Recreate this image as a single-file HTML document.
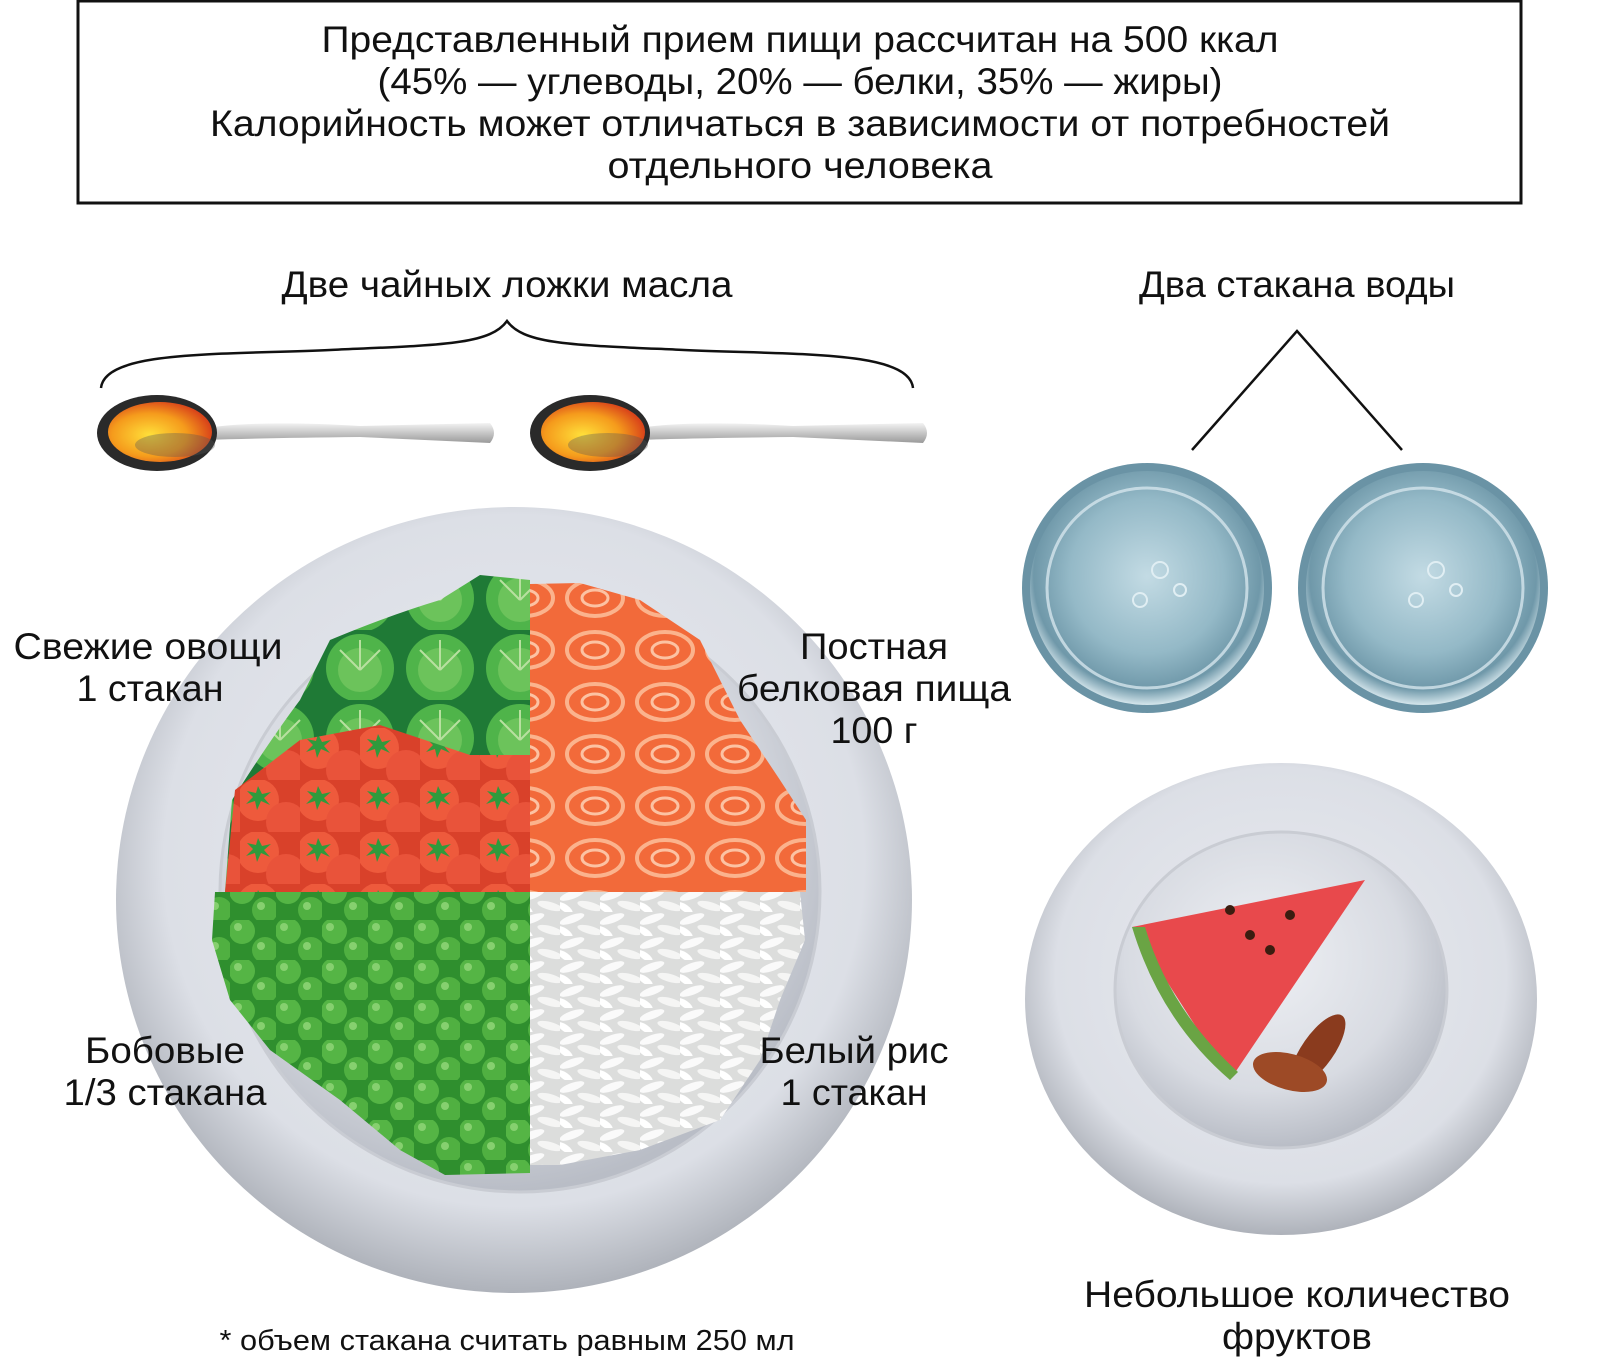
<!DOCTYPE html>
<html><head><meta charset="utf-8"><style>
html,body{margin:0;padding:0;background:#fff;}
svg{display:block;}
text{font-family:"Liberation Sans Narrow","Liberation Sans",sans-serif;fill:#111;}
</style></head><body>
<svg width="1615" height="1371" viewBox="0 0 1615 1371" xmlns="http://www.w3.org/2000/svg">
<defs>
<radialGradient id="plate" cx="50%" cy="45%" r="55%">
<stop offset="0" stop-color="#e9ebf0"/><stop offset="0.8" stop-color="#dcdfe6"/><stop offset="1" stop-color="#aeb2ba"/></radialGradient>
<radialGradient id="well" cx="45%" cy="40%" r="60%">
<stop offset="0" stop-color="#eef0f4"/><stop offset="0.7" stop-color="#d8dbe2"/><stop offset="1" stop-color="#b9bdc6"/></radialGradient>
<radialGradient id="water" cx="50%" cy="45%" r="55%">
<stop offset="0" stop-color="#c3dbe4"/><stop offset="0.6" stop-color="#94b9c7"/><stop offset="0.88" stop-color="#6f98a9"/><stop offset="1" stop-color="#d5e6ec"/></radialGradient>
<radialGradient id="oil" cx="40%" cy="55%" r="60%">
<stop offset="0" stop-color="#ffe03a"/><stop offset="0.6" stop-color="#f59b1c"/><stop offset="1" stop-color="#d9441a"/></radialGradient>
<linearGradient id="handle" x1="0" y1="0" x2="0" y2="1"><stop offset="0" stop-color="#f3f3f3"/><stop offset="1" stop-color="#9a9a9a"/></linearGradient>
<pattern id="peas" width="46" height="40" patternUnits="userSpaceOnUse">
<rect width="46" height="40" fill="#2f8f2e"/>
<circle cx="12" cy="11" r="13" fill="#55b545"/><circle cx="35" cy="30" r="13" fill="#50b041"/>
<circle cx="8" cy="7" r="4" fill="#86d06f"/><circle cx="31" cy="26" r="4" fill="#86d06f"/></pattern>
<pattern id="rice" width="40" height="24" patternUnits="userSpaceOnUse">
<rect width="40" height="24" fill="#dcdddc"/>
<ellipse cx="12" cy="7" rx="13" ry="4" fill="#fafafa" transform="rotate(-20 12 7)"/>
<ellipse cx="30" cy="18" rx="13" ry="4" fill="#f5f5f4" transform="rotate(15 30 18)"/>
<ellipse cx="5" cy="20" rx="9" ry="3.5" fill="#ffffff" transform="rotate(35 5 20)"/></pattern>
<pattern id="salmon" width="70" height="52" patternUnits="userSpaceOnUse">
<rect width="70" height="52" fill="#f26a3a"/>
<ellipse cx="35" cy="26" rx="28" ry="18" fill="none" stroke="#fbb38d" stroke-width="4"/>
<ellipse cx="35" cy="26" rx="13" ry="8" fill="none" stroke="#fcc2a3" stroke-width="3"/></pattern>
<pattern id="tom" width="60" height="52" patternUnits="userSpaceOnUse">
<rect width="60" height="52" fill="#d9412a"/>
<circle cx="18" cy="20" r="21" fill="#ee5a3c"/><circle cx="46" cy="42" r="20" fill="#e9533a"/>
<path d="M18 6 l4 8 9-2-7 6 6 7-9-4-4 9-2-9-9 3 7-7-6-6 9 2z" fill="#2f9a3c"/></pattern>
<pattern id="leaf" width="80" height="70" patternUnits="userSpaceOnUse">
<rect width="80" height="70" fill="#1f7a36"/>
<circle cx="40" cy="38" r="34" fill="#4fb44a"/><circle cx="40" cy="40" r="22" fill="#6cc35b"/>
<path d="M40 40 L20 20 M40 40 L60 20 M40 40 L40 10" stroke="#b8e0a0" stroke-width="2"/></pattern>
</defs>

<rect x="78" y="1" width="1443" height="202" fill="#fff" stroke="#111" stroke-width="3"/>
<text x="800" y="52" font-size="37" text-anchor="middle" textLength="957" lengthAdjust="spacingAndGlyphs">Представленный прием пищи рассчитан на 500 ккал</text>
<text x="800" y="94" font-size="37" text-anchor="middle" textLength="845" lengthAdjust="spacingAndGlyphs">(45% — углеводы, 20% — белки, 35% — жиры)</text>
<text x="800" y="136" font-size="37" text-anchor="middle" textLength="1180" lengthAdjust="spacingAndGlyphs">Калорийность может отличаться в зависимости от потребностей</text>
<text x="800" y="178" font-size="37" text-anchor="middle" textLength="385" lengthAdjust="spacingAndGlyphs">отдельного человека</text>

<text x="507" y="297" font-size="37" text-anchor="middle" textLength="451" lengthAdjust="spacingAndGlyphs">Две чайных ложки масла</text>
<text x="1297" y="297" font-size="37" text-anchor="middle" textLength="316" lengthAdjust="spacingAndGlyphs">Два стакана воды</text>

<path d="M101 388 C105 350 220 355 330 350 C440 345 490 345 507 321 C524 345 574 345 684 350 C794 355 909 350 913 388" fill="none" stroke="#111" stroke-width="2.5"/>
<path d="M1192 450 L1297 331 L1402 450" fill="none" stroke="#111" stroke-width="2.5"/>

<g>
<path d="M205 428 Q260 420 360 426 L490 423 Q498 433 490 443 L360 437 Q260 438 205 440 Z" fill="url(#handle)"/>
<ellipse cx="157" cy="433" rx="60" ry="38" fill="#2a2a2a"/>
<ellipse cx="160" cy="432" rx="52" ry="30" fill="url(#oil)"/>
<ellipse cx="175" cy="445" rx="40" ry="12" fill="#555" opacity="0.35"/>
</g>
<g transform="translate(433,0)">
<path d="M205 428 Q260 420 360 426 L490 423 Q498 433 490 443 L360 437 Q260 438 205 440 Z" fill="url(#handle)"/>
<ellipse cx="157" cy="433" rx="60" ry="38" fill="#2a2a2a"/>
<ellipse cx="160" cy="432" rx="52" ry="30" fill="url(#oil)"/>
<ellipse cx="175" cy="445" rx="40" ry="12" fill="#555" opacity="0.35"/>
</g>

<g>
<circle cx="1147" cy="588" r="125" fill="#6a93a5"/>
<circle cx="1147" cy="588" r="117" fill="url(#water)"/>
<circle cx="1147" cy="588" r="100" fill="none" stroke="#d4e5ec" stroke-width="3" opacity="0.8"/>
<circle cx="1160" cy="570" r="8" fill="none" stroke="#e0eef3" stroke-width="2"/><circle cx="1180" cy="590" r="6" fill="none" stroke="#e0eef3" stroke-width="2"/><circle cx="1140" cy="600" r="7" fill="none" stroke="#e0eef3" stroke-width="2"/>
</g>
<g transform="translate(276,0)">
<circle cx="1147" cy="588" r="125" fill="#6a93a5"/>
<circle cx="1147" cy="588" r="117" fill="url(#water)"/>
<circle cx="1147" cy="588" r="100" fill="none" stroke="#d4e5ec" stroke-width="3" opacity="0.8"/>
<circle cx="1160" cy="570" r="8" fill="none" stroke="#e0eef3" stroke-width="2"/><circle cx="1180" cy="590" r="6" fill="none" stroke="#e0eef3" stroke-width="2"/><circle cx="1140" cy="600" r="7" fill="none" stroke="#e0eef3" stroke-width="2"/>
</g>

<ellipse cx="514" cy="900" rx="398" ry="393" fill="url(#plate)"/>
<ellipse cx="520" cy="892" rx="300" ry="300" fill="url(#well)" stroke="#c9ccd3" stroke-width="3"/>
<path d="M530 892 L225 892 L232 800 Q270 740 300 700 L330 640 Q390 615 440 600 L480 575 L530 580 Z" fill="url(#leaf)"/>
<path d="M530 892 L225 892 L235 790 L300 740 L380 725 L470 755 L530 755 Z" fill="url(#tom)"/>
<path d="M530 892 L530 584 L580 583 L640 600 L700 640 L740 720 L780 780 L806 820 L806 892 Z" fill="url(#salmon)"/>
<path d="M530 892 L530 1173 L445 1175 L400 1150 L340 1100 L270 1050 L230 1000 L212 940 L215 892 Z" fill="url(#peas)"/>
<path d="M530 892 L800 892 L805 940 L780 1000 L760 1060 L720 1120 L640 1150 L560 1165 L530 1165 Z" fill="url(#rice)"/>

<ellipse cx="1281" cy="999" rx="256" ry="236" fill="url(#plate)"/>
<ellipse cx="1281" cy="990" rx="166" ry="158" fill="url(#well)" stroke="#c9ccd3" stroke-width="3"/>
<path d="M1132 927 L1365 880 L1230 1080 Z" fill="#e8494c"/>
<path d="M1132 927 Q1160 1020 1230 1080 L1238 1072 Q1170 1010 1145 927 Z" fill="#6aa444"/>
<circle cx="1230" cy="910" r="5" fill="#3a1d10"/><circle cx="1250" cy="935" r="5" fill="#3a1d10"/><circle cx="1270" cy="950" r="5" fill="#3a1d10"/><circle cx="1290" cy="915" r="5" fill="#3a1d10"/>
<ellipse cx="1318" cy="1050" rx="42" ry="16" fill="#8a3b1e" transform="rotate(-55 1318 1050)"/>
<ellipse cx="1290" cy="1072" rx="38" ry="18" fill="#9d4a26" transform="rotate(15 1290 1072)"/>

<g font-size="37">
<text x="148" y="659" text-anchor="middle" textLength="269" lengthAdjust="spacingAndGlyphs">Свежие овощи</text>
<text x="150" y="701" text-anchor="middle" textLength="147" lengthAdjust="spacingAndGlyphs">1 стакан</text>
<text x="874" y="659" text-anchor="middle" textLength="148" lengthAdjust="spacingAndGlyphs">Постная</text>
<text x="874" y="701" text-anchor="middle" textLength="274" lengthAdjust="spacingAndGlyphs">белковая пища</text>
<text x="874" y="743" text-anchor="middle" textLength="87" lengthAdjust="spacingAndGlyphs">100 г</text>
<text x="165" y="1063" text-anchor="middle" textLength="160" lengthAdjust="spacingAndGlyphs">Бобовые</text>
<text x="165" y="1105" text-anchor="middle" textLength="203" lengthAdjust="spacingAndGlyphs">1/3 стакана</text>
<text x="854" y="1063" text-anchor="middle" textLength="189" lengthAdjust="spacingAndGlyphs">Белый рис</text>
<text x="854" y="1105" text-anchor="middle" textLength="147" lengthAdjust="spacingAndGlyphs">1 стакан</text>
<text x="1297" y="1307" text-anchor="middle" textLength="426" lengthAdjust="spacingAndGlyphs">Небольшое количество</text>
<text x="1297" y="1349" text-anchor="middle" textLength="150" lengthAdjust="spacingAndGlyphs">фруктов</text>
</g>
<text x="507" y="1350" font-size="29" text-anchor="middle" textLength="575" lengthAdjust="spacingAndGlyphs">* объем стакана считать равным 250 мл</text>
</svg>
</body></html>
